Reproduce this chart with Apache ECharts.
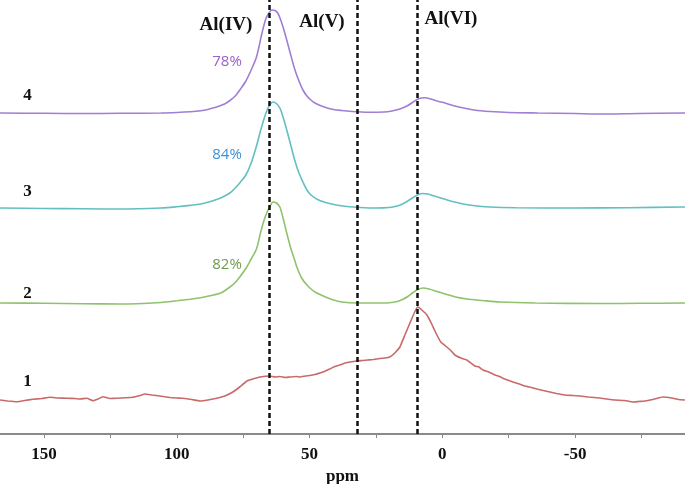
<!DOCTYPE html>
<html>
<head>
<meta charset="utf-8">
<script src="https://cdn.jsdelivr.net/npm/echarts@6/dist/echarts.min.js"></script>
<style>html,body{margin:0;padding:0;background:#fff}#c{width:685px;height:484px}</style>
</head>
<body>
<div id="c"></div>
<script>
// ppm positions and intensities (arbitrary units) for each spectrum
const ppm4 = [166.6,150,135,121.5,106,100,95,91,88,85,82,80,78,76,74,72,70,68,66.5,65.3,64.2,63,62,61,60,58.5,57,55.5,54,52.5,51,49.5,48,45,42,38,34,28,22,19,16,13,11,9.5,8,6.5,5,2,-1,-4,-8,-12,-18,-25,-36,-50,-58,-74,-91.4];
const int4 = [0,-0.3,-0.5,-0.3,0,0.5,1.2,2.2,3.8,6,9,12.5,17,24,32,43,56,79,94,100,103,102.5,100,94,86,72,57,43,32,23,17,13,10,6.5,4,2.5,1.5,0.8,1,2,4,7.5,11,13.5,15,15.2,14.5,12,10,7.5,5,3,1.5,0.5,0,-0.5,-1,-0.5,0];

const ppm3 = [166.6,150,135,121.5,106,100,95,91,88,85,82.7,80,78,76.3,74,72,70,68.7,67.3,66,65,63.8,62.5,61.2,60,58.6,57,55.5,54,52.5,51,49.5,47,44,40,36,31,25,20,17,15,13,11,9,7.5,5.5,3,0,-3,-7,-11.5,-18,-28,-49,-70,-91.4];
const int3 = [0,-0.5,-0.8,-1,0,1.2,2.6,4,6,8.5,11,15,20,25,33,45,62,75,88,98,103,106,104.5,100,91,78,62,47,35,26,18,13,8.5,5.5,3,1.5,0.5,0,0.5,2,4,7,10.5,13.5,14.5,14,12,9.5,7,4.5,2.5,1,0.3,0,0.3,1];

const ppm2 = [166.6,150,135,121.5,106,100,95,91,87,84,82.7,80,78,76.3,74,72,70,68.5,67,66,65,63.8,62.5,61.2,60,58.6,57,55.5,54.8,53,51,49,47.3,44,41,38,32,25,20,17,15,13,11,9.2,7.3,5,2,-1,-5,-9.2,-15,-21.7,-35,-59.3,-75,-91.4];
const int2 = [0,-0.3,-0.7,-1,0.5,2.2,3.8,5.3,7.5,9.5,11,16,20.5,26,34.5,44,54,70,84,91,96,101,100,96,85,70,54,42,36,25,18,13,10,6,3,1,0,0,0.3,1.5,3.5,6.5,10.5,13.5,15,14,11.5,9,6,4,2.5,1,0,-0.5,-0.3,0];

const ppm1 = [166.6,163.7,160.1,157.3,154.2,150.8,147.8,144.8,141.4,138.4,136.5,133.9,131.6,129.7,127.9,125.2,122.6,119.6,116.6,113.9,112,109.4,106.4,102.6,100,97.7,94.4,91.3,88.3,84.9,81.9,78.9,76.3,73.6,71.4,68.7,65,63,61.2,59,57.4,55,53.7,51.5,49.9,48,46.1,44,42.4,40.5,38.6,36.5,34.8,32.2,30,28.1,26,23.5,21.5,19.8,17.9,16,14.1,12.2,10.4,9.2,7.7,5.8,4,2.8,0.6,-1.7,-3,-4.7,-7,-9.2,-12.2,-13.8,-15.3,-17.5,-19.8,-21.5,-23.5,-26.6,-29,-31.1,-33.5,-35.6,-38,-40.5,-43,-46.1,-49,-51.8,-55,-59.3,-62,-65,-68.7,-71.8,-74,-76.3,-80,-83,-86.4,-89,-91.4];
const int1 = [0,-1,-1.7,-0.5,0.7,1.5,2.7,2,1.7,1.5,1,1.8,-0.7,1,3.3,1.5,1.7,2.2,2.7,4.5,6,5,4,2.5,2,1.7,0.5,-1,0,1.7,4,8,13,19,21,23,24,23,23.5,22.5,23,23.5,23,24,24.5,25.5,27,29,31,33.5,35,37,38,39,39.5,40,40.5,41.5,42,43,47,53,65,77,88,93,90,85,76,69,58,53,50,45,42,40,34,33,30,28,25,23.5,21,18,16,14,12.5,11,9.5,8,6.5,5,4.5,4,3,2,1,0,-0.5,-2,-1.5,-1,1,3,2,0.5,0];

// vertical offsets of the stacked traces (1 bottom .. 4 top)
const offsets = [34, 131, 226, 321];
const sampleNames = ['1','2','3','4'];
const fractions = ['', '82%', '84%', '78%'];
const markers = [65.3, 32.2, 9.4];
const markerNames = ['Al(IV)', 'Al(V)', 'Al(VI)'];
const labelTicks = [150, 100, 50, 0, -50];
const minorTicks = [150, 125, 100, 75, 50, 25, 0, -25, -50, -75];

const colors = ['#c86a6a', '#8fc26c', '#64bfbf', '#a07ed4'];
const fracColors = ['', '#6f9b50', '#3f90d8', '#9a5fcb'];

function build(p, v, off) { return p.map((x, i) => [x, v[i] + off]); }
const traces = [[ppm1, int1], [ppm2, int2], [ppm3, int3], [ppm4, int4]];

const series = traces.map((t, i) => ({
  type: 'line',
  data: build(t[0], t[1], offsets[i]),
  showSymbol: false,
  smooth: i === 0 ? 0.1 : 0.3,
  lineStyle: { color: colors[i], width: 1.6 },
  z: 2,
  silent: true
}));
series.push({
  type: 'line', data: [], silent: true,
  markLine: {
    silent: true, symbol: 'none', label: { show: false },
    lineStyle: { color: '#111', width: 2.5, type: [5, 3] },
    data: markers.map(m => ({ xAxis: m }))
  },
  z: 5
});

const serif = '"Liberation Serif", "Times New Roman", serif';
const graphics = [];
const markerPos = [[226, 25], [322, 22], [451, 19]];
markerNames.forEach((n, i) => graphics.push({
  type: 'text', x: markerPos[i][0], y: markerPos[i][1],
  style: { text: n, font: 'bold 19px ' + serif, fill: '#111', textAlign: 'center', textVerticalAlign: 'middle' }
}));
const numY = [382, 294, 192, 96];
sampleNames.forEach((n, i) => graphics.push({
  type: 'text', x: 27.5, y: numY[i],
  style: { text: n, font: 'bold 17px ' + serif, fill: '#111', textAlign: 'center', textVerticalAlign: 'middle' }
}));
const fracY = [0, 265, 155, 62];
fractions.forEach((f, i) => { if (f) graphics.push({
  type: 'text', x: 227, y: fracY[i],
  style: { text: f, font: '15px "Open Sans", sans-serif', fill: fracColors[i], textAlign: 'center', textVerticalAlign: 'middle' }
}); });

const chart = echarts.init(document.getElementById('c'), null, { renderer: 'canvas' });
chart.setOption({
  animation: false,
  backgroundColor: '#fff',
  grid: { left: 0, right: 0, top: 0, bottom: 50, containLabel: false, outerBoundsMode: 'none' },
  xAxis: {
    type: 'value', inverse: true, min: -91.4, max: 166.6,
    name: 'ppm', nameLocation: 'middle', nameGap: 23,
    nameTextStyle: { fontFamily: serif, fontWeight: 'bold', fontSize: 17, color: '#111' },
    axisLine: { show: true, onZero: false, lineStyle: { color: '#8a8a8a', width: 2 } },
    axisTick: { show: true, inside: false, length: 4, customValues: minorTicks, lineStyle: { color: '#8a8a8a', width: 1 } },
    axisLabel: { customValues: labelTicks, margin: 12, fontFamily: serif, fontWeight: 'bold', fontSize: 17, color: '#111' },
    splitLine: { show: false }
  },
  yAxis: { type: 'value', min: 0, max: 434, show: false },
  series: series,
  graphic: graphics
});
</script>
</body>
</html>
